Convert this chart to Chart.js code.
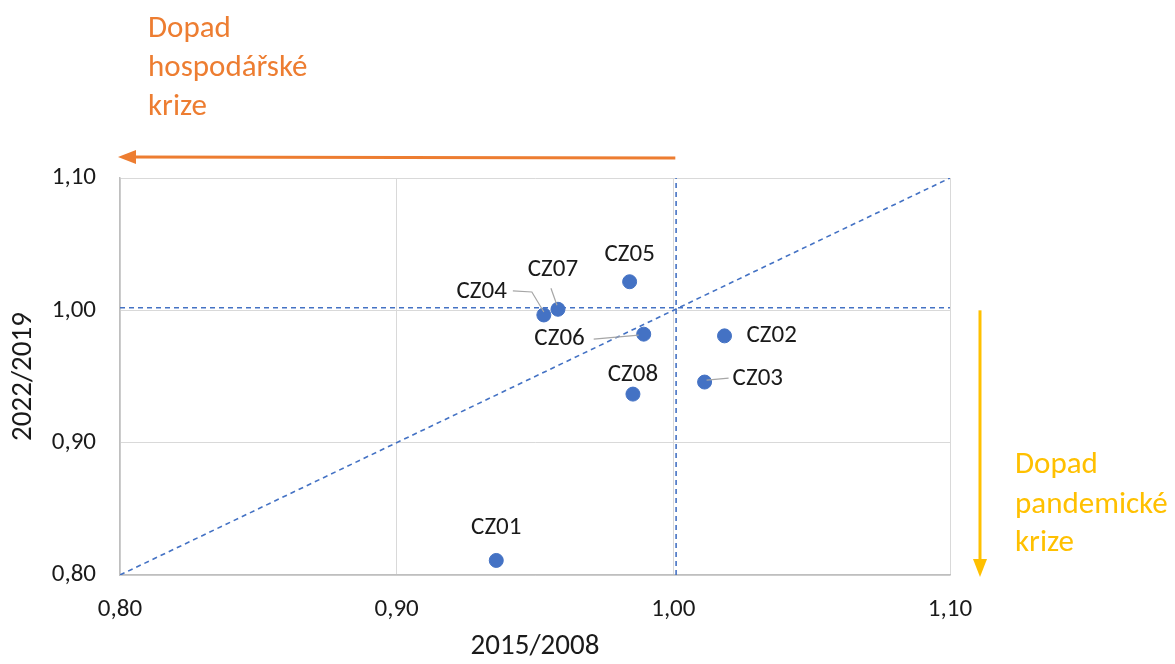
<!DOCTYPE html>
<html>
<head>
<meta charset="utf-8">
<script src="https://cdn.jsdelivr.net/npm/chart.js@4/dist/chart.umd.min.js"></script>
<style>
  body { margin: 0; background: #fff; }
</style>
</head>
<body>
<canvas id="chart" width="1175" height="664"></canvas>
<script>
// data
let regions = ['CZ01', 'CZ02', 'CZ03', 'CZ04', 'CZ05', 'CZ06', 'CZ07', 'CZ08'];
let ratio2015 = [0.936, 1.0185, 1.0113, 0.9532, 0.9842, 0.9893, 0.9583, 0.9854];
let ratio2022 = [0.811, 0.9807, 0.9458, 0.9965, 1.0216, 0.982, 1.0008, 0.9367];

let axisTicks = [0.80, 0.90, 1.00, 1.10];

let lineH = [{x: 0.80, y: 1.002}, {x: 1.10, y: 1.002}];
let lineV = [{x: 1.001, y: 0.80}, {x: 1.001, y: 1.10}];
let lineDiag = [{x: 0.80, y: 0.80}, {x: 1.10, y: 1.10}];

let blue = '#4472C4';
let orange = '#ED7D31';
let yellow = '#FFC000';
let font = 'Carlito, Calibri, Lato, sans-serif';

let points = regions.map(function (r, i) {
    return {x: ratio2015[i], y: ratio2022[i]};
});

// label placement (pixel offsets from the point)
let labelPos = {
    CZ01: {dx: 0, dy: -33, align: 'center'},
    CZ02: {dx: 22, dy: 0, align: 'left'},
    CZ03: {dx: 28, dy: -3, align: 'left', leader: [[2, -2], [24, -4]]},
    CZ04: {dx: -37, dy: -23, align: 'right', leader: [[-31, -24], [-12, -23], [0, -3]]},
    CZ05: {dx: 0, dy: -27, align: 'center'},
    CZ06: {dx: -59, dy: 5, align: 'right', leader: [[-50, 5], [-5, 1]]},
    CZ07: {dx: -5, dy: -40, align: 'center', leader: [[-7, -21], [-1, -4]]},
    CZ08: {dx: 0, dy: -19, align: 'center'}
};

function fmt(v) {
    return v.toFixed(2).replace('.', ',');
}

let extras = {
    id: 'extras',
    afterDatasetsDraw(chart) {
        let ctx = chart.ctx;
        let meta = chart.getDatasetMeta(3);
        ctx.save();

        // data labels
        ctx.font = '25px ' + font;
        ctx.fillStyle = '#1a1a1a';
        ctx.textBaseline = 'middle';
        meta.data.forEach(function (pt, i) {
            let p = labelPos[regions[i]];
            if (p.leader) {
                ctx.strokeStyle = '#a6a6a6';
                ctx.lineWidth = 1.2;
                ctx.beginPath();
                p.leader.forEach(function (l, k) {
                    if (k == 0) ctx.moveTo(pt.x + l[0], pt.y + l[1]);
                    else ctx.lineTo(pt.x + l[0], pt.y + l[1]);
                });
                ctx.stroke();
            }
            ctx.textAlign = p.align;
            ctx.fillText(regions[i], pt.x + p.dx, pt.y + p.dy);
        });

        let xs = chart.scales.x;
        let ys = chart.scales.y;
        let area = chart.chartArea;

        // orange arrow - hospodarska krize
        let ay = area.top - 21;
        let ax1 = xs.getPixelForValue(1.0) + 2;
        let ax2 = xs.getPixelForValue(0.8) - 2;
        ctx.strokeStyle = orange;
        ctx.fillStyle = orange;
        ctx.lineWidth = 3;
        ctx.beginPath();
        ctx.moveTo(ax1, ay + 1);
        ctx.lineTo(ax2 + 14, ay);
        ctx.stroke();
        ctx.beginPath();
        ctx.moveTo(ax2, ay);
        ctx.lineTo(ax2 + 18, ay - 7);
        ctx.lineTo(ax2 + 18, ay + 7);
        ctx.closePath();
        ctx.fill();

        ctx.font = '31px ' + font;
        ctx.textAlign = 'left';
        ctx.fillText('Dopad', 148, 29);
        ctx.fillText('hospodářské', 148, 68);
        ctx.fillText('krize', 148, 107);

        // yellow arrow - pandemicka krize
        let bx = area.right + 30;
        let by1 = ys.getPixelForValue(1.0);
        let by2 = ys.getPixelForValue(0.8) + 2;
        ctx.strokeStyle = yellow;
        ctx.fillStyle = yellow;
        ctx.beginPath();
        ctx.moveTo(bx, by1);
        ctx.lineTo(bx, by2 - 14);
        ctx.stroke();
        ctx.beginPath();
        ctx.moveTo(bx, by2);
        ctx.lineTo(bx - 7, by2 - 18);
        ctx.lineTo(bx + 7, by2 - 18);
        ctx.closePath();
        ctx.fill();

        ctx.fillText('Dopad', 1015, 465);
        ctx.fillText('pandemické', 1015, 505);
        ctx.fillText('krize', 1015, 543);

        ctx.restore();
    }
};

let refLine = {
    type: 'scatter',
    showLine: true,
    borderColor: blue,
    borderWidth: 1.6,
    borderDash: [5, 4],
    pointRadius: 0,
    fill: false
};

let ctx = document.getElementById('chart');
let myChart = new Chart(ctx, {
    type: 'scatter',
    data: {
        datasets: [
            Object.assign({}, refLine, {data: lineH}),
            Object.assign({}, refLine, {data: lineV}),
            Object.assign({}, refLine, {data: lineDiag}),
            {
                data: points,
                backgroundColor: blue,
                borderColor: blue,
                pointRadius: 7,
                pointHoverRadius: 7
            }
        ]
    },
    options: {
        responsive: false,
        animation: false,
        layout: {padding: {top: 178, right: 225, bottom: 0, left: 0}},
        plugins: {legend: {display: false}, tooltip: {enabled: false}},
        scales: {
            x: {
                type: 'linear',
                min: 0.8,
                max: 1.1,
                afterBuildTicks: function (s) { s.ticks = axisTicks.map(function (v) { return {value: v}; }); },
                afterFit: function (s) { s.height = 89; },
                border: {color: '#bfbfbf', width: 1.5},
                grid: {color: '#d9d9d9', drawTicks: false},
                ticks: {padding: 20, color: '#1a1a1a', font: {family: font, size: 25},
                    callback: function (v) { return fmt(v); }},
                title: {display: true, text: '2015/2008', color: '#1a1a1a',
                    font: {family: font, size: 29}, padding: {top: 0, bottom: 0}}
            },
            y: {
                type: 'linear',
                min: 0.8,
                max: 1.1,
                afterBuildTicks: function (s) { s.ticks = axisTicks.map(function (v) { return {value: v}; }); },
                afterFit: function (s) { s.width = 120; },
                border: {color: '#bfbfbf', width: 1.5},
                grid: {color: '#d9d9d9', drawTicks: false},
                ticks: {padding: 24, color: '#1a1a1a', font: {family: font, size: 25},
                    callback: function (v) { return fmt(v); }},
                title: {display: true, text: '2022/2019', color: '#1a1a1a',
                    font: {family: font, size: 29}, padding: {top: 6, bottom: 0}}
            }
        }
    },
    plugins: [extras]
});
</script>
</body>
</html>
